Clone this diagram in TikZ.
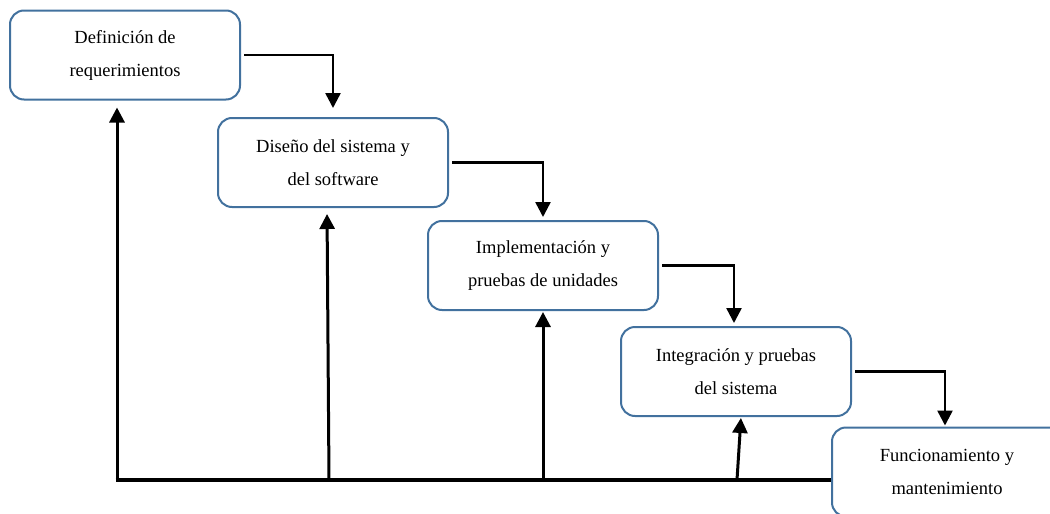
\documentclass[tikz,border=0pt]{standalone}
\usepackage{fontspec}
\setmainfont{Liberation Serif}
\usetikzlibrary{arrows.meta}
\definecolor{boxblue}{RGB}{66,113,158}

\begin{document}
\begin{tikzpicture}[x=1pt, y=-1pt, >={Triangle[width=15pt, length=15pt]},
		phase/.style={draw=boxblue, line width=2pt, rounded corners=14pt, minimum width=230pt, minimum height=89pt, align=center, font=\fontsize{18.5}{33}\selectfont},
		flow/.style={->, line width=2.5pt, shorten <=3pt},
		back/.style={->, line width=3pt}]
		\useasboundingbox (0, 0) rectangle (1050, 514);
		\clip (0, 0) rectangle (1050, 514);
		
		\node[phase] (def) at (125, 55) {Definición de\\requerimientos};
		\node[phase] (dis) at (333, 162.5) {Diseño del sistema y\\del software};
		\node[phase] (imp) at (543, 265.5) {Implementación y\\pruebas de unidades};
		\node[phase] (int) at (736, 371.5) {Integración y pruebas\\del sistema};
		\node[phase] (fun) at (947, 472) {Funcionamiento y\\mantenimiento};
		
		% avance entre fases
		\draw[flow, shorten >=9pt] (def.east) -| (dis.north);
		\draw[flow, shorten >=3pt] (dis.east) -| (imp.north);
		\draw[flow, shorten >=3pt] (imp.east) -| ([xshift=-2pt]int.north);
		\draw[flow, shorten >=1pt] (int.east) -| ([xshift=-2pt]fun.north);
		
		% retroalimentacion
		\coordinate (r1) at (117, 480);
		\coordinate (r2) at (329, 480);
		\coordinate (r3) at (543, 480);
		\coordinate (r4) at (737, 480);
		\draw[line width=4pt] ([xshift=-1.5pt]r1) -- (r1 -| fun.west);
		\draw[back, shorten >=7pt] (r1) -- (r1 |- def.south);
		\draw[back, shorten >=6pt] (r2) -- ([xshift=-6pt]dis.south);
		\draw[back, shorten >=1pt] (r3) -- (imp.south);
		\draw[back, shorten >=1pt] (r4) -- ([xshift=5pt]int.south);
		
	\end{tikzpicture}
\end{document}
